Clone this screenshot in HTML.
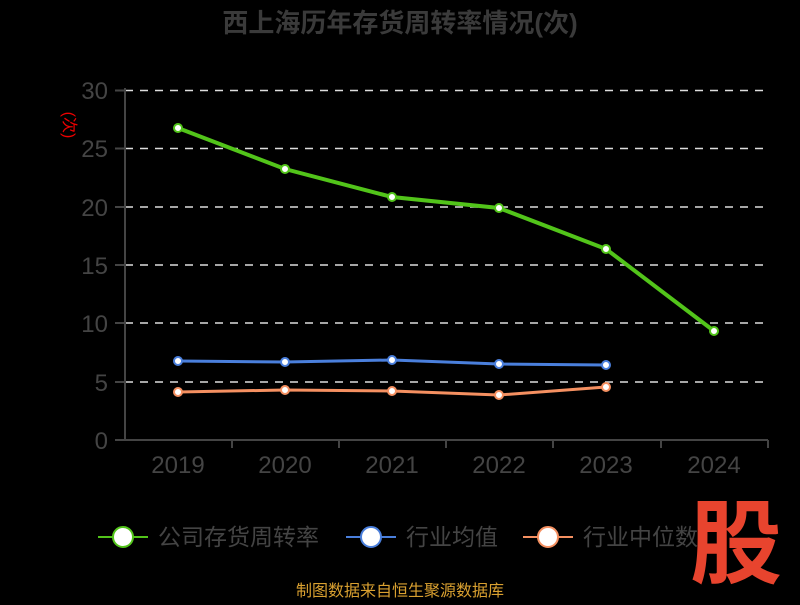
<!DOCTYPE html>
<html><head><meta charset="utf-8"><style>
body{margin:0;background:#000;width:800px;height:600px;overflow:hidden;font-family:"Liberation Sans","Noto Sans CJK SC",sans-serif}
</style></head><body>
<svg width="800" height="600" xmlns="http://www.w3.org/2000/svg" font-family="Liberation Sans, Noto Sans CJK SC, sans-serif">
<rect width="800" height="600" fill="#000"/>
<text x="400" y="32" text-anchor="middle" font-size="26" font-weight="bold" fill="#3a3a3a">西上海历年存货周转率情况(次)</text>
<g stroke="#ddd" stroke-width="1.5" stroke-dasharray="8,7">
<line x1="125" x2="768" y1="90.5" y2="90.5"/><line x1="125" x2="768" y1="148.5" y2="148.5"/><line x1="125" x2="768" y1="207" y2="207"/><line x1="125" x2="768" y1="265" y2="265"/><line x1="125" x2="768" y1="323" y2="323"/><line x1="125" x2="768" y1="382" y2="382"/>
</g>
<g stroke="#444" stroke-width="2">
<line x1="125" y1="88" x2="125" y2="441"/><line x1="124" y1="440" x2="768" y2="440"/>
<line x1="115" x2="125" y1="90.5" y2="90.5"/><line x1="115" x2="125" y1="148.5" y2="148.5"/><line x1="115" x2="125" y1="207" y2="207"/><line x1="115" x2="125" y1="265" y2="265"/><line x1="115" x2="125" y1="323" y2="323"/><line x1="115" x2="125" y1="382" y2="382"/><line x1="115" x2="125" y1="440" y2="440"/>
<line x1="232" x2="232" y1="440" y2="448"/><line x1="339" x2="339" y1="440" y2="448"/><line x1="446" x2="446" y1="440" y2="448"/><line x1="553" x2="553" y1="440" y2="448"/><line x1="661" x2="661" y1="440" y2="448"/><line x1="768" x2="768" y1="440" y2="448"/>
</g>
<g fill="#444" font-size="24" text-anchor="end">
<text x="108" y="99">30</text><text x="108" y="157">25</text><text x="108" y="216">20</text><text x="108" y="274">15</text><text x="108" y="332">10</text><text x="108" y="391">5</text><text x="108" y="449">0</text>
</g>
<g fill="#444" font-size="24" text-anchor="middle">
<text x="178" y="473">2019</text><text x="285" y="473">2020</text><text x="392" y="473">2021</text><text x="499" y="473">2022</text><text x="606" y="473">2023</text><text x="714" y="473">2024</text>
</g>
<text x="64" y="125" fill="#e00" font-size="16" text-anchor="middle" transform="rotate(90 64 125)">(次)</text>
<polyline points="178,128 285,169 392,197 499,208 606,249 714,331" fill="none" stroke="#52c41a" stroke-width="4"/>
<polyline points="178,361 285,362 392,360 499,364 606,365" fill="none" stroke="#4a7fdc" stroke-width="3"/>
<polyline points="178,392 285,390 392,391 499,395 606,387" fill="none" stroke="#f59061" stroke-width="3"/>
<g fill="#fff" stroke="#52c41a" stroke-width="2"><circle cx="178" cy="128" r="4"/><circle cx="285" cy="169" r="4"/><circle cx="392" cy="197" r="4"/><circle cx="499" cy="208" r="4"/><circle cx="606" cy="249" r="4"/><circle cx="714" cy="331" r="4"/></g>
<g fill="#fff" stroke="#4a7fdc" stroke-width="2"><circle cx="178" cy="361" r="4"/><circle cx="285" cy="362" r="4"/><circle cx="392" cy="360" r="4"/><circle cx="499" cy="364" r="4"/><circle cx="606" cy="365" r="4"/></g>
<g fill="#fff" stroke="#f59061" stroke-width="2"><circle cx="178" cy="392" r="4"/><circle cx="285" cy="390" r="4"/><circle cx="392" cy="391" r="4"/><circle cx="499" cy="395" r="4"/><circle cx="606" cy="387" r="4"/></g>
<g font-size="23" fill="#444">
<line x1="98" x2="148" y1="537" y2="537" stroke="#52c41a" stroke-width="2"/><circle cx="123" cy="537" r="10" fill="#fff" stroke="#52c41a" stroke-width="2"/><text x="158" y="545">公司存货周转率</text>
<line x1="346" x2="396" y1="537" y2="537" stroke="#4a7fdc" stroke-width="2"/><circle cx="371" cy="537" r="10" fill="#fff" stroke="#4a7fdc" stroke-width="2"/><text x="406" y="545">行业均值</text>
<line x1="523" x2="573" y1="537" y2="537" stroke="#f59061" stroke-width="2"/><circle cx="548" cy="537" r="10" fill="#fff" stroke="#f59061" stroke-width="2"/><text x="583" y="545">行业中位数</text>
</g>
<text x="736" y="576" text-anchor="middle" font-size="92" font-weight="bold" fill="#e8442e">股</text>
<text x="400" y="596" text-anchor="middle" font-size="16" fill="#d9a030">制图数据来自恒生聚源数据库</text>
</svg>
</body></html>
